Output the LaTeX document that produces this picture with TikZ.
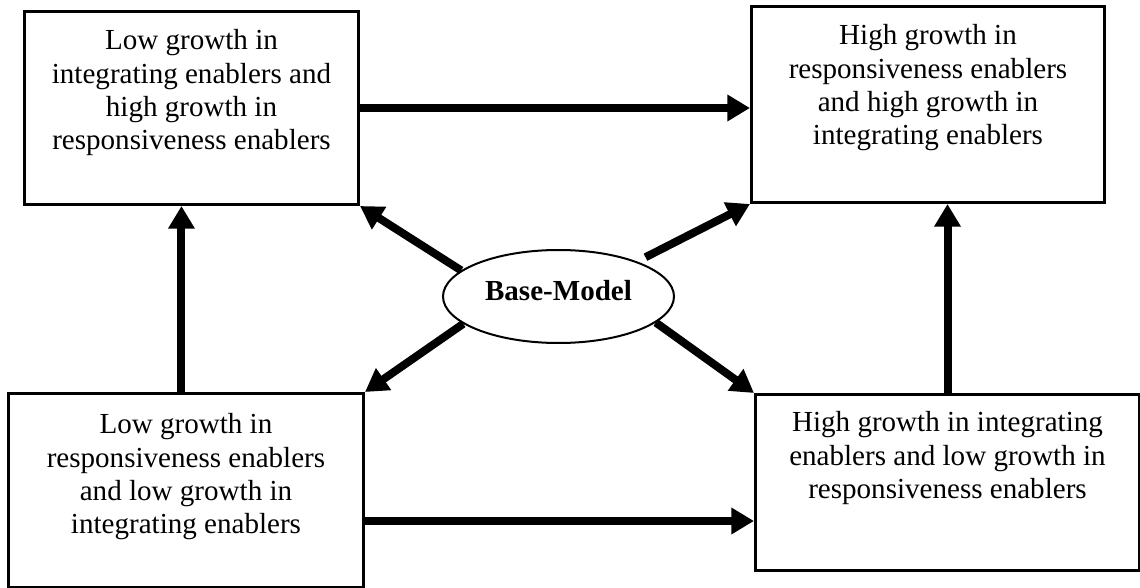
\documentclass[tikz,border=0pt]{standalone}
\usepackage{fontspec}
\setmainfont{Liberation Serif}
\usetikzlibrary{arrows.meta,shapes.geometric,calc}
\newlength\upx \setlength\upx{0.75pt}
\newcommand\boxcontent[4]{\parbox[c][#2\upx][t]{#1\upx}{\vspace*{#3pt}\centering #4\par}}
\tikzset{
  box/.style={draw, line width=2.25pt, inner sep=0pt, anchor=north west, font=\fontsize{21.8}{25}\selectfont},
  arr/.style={line width=6pt, -{Triangle[length=17pt,width=19pt]}},
  basemodel/.style={ellipse, draw, line width=1.5pt, minimum width=231\upx, minimum height=93\upx, inner sep=0pt,
    font=\fontsize{21.8}{25}\selectfont\bfseries, text height=14.7pt, text depth=8pt}
}
\begin{document}
\begin{tikzpicture}[x=0.75pt,y=-0.75pt]
\useasboundingbox (0,0) rectangle (1140,588);
\node[box] (tl) at (23,10) {\boxcontent{334}{193}{13.6}{Low growth in\\integrating enablers and\\high growth in\\responsiveness enablers}};
\node[box] (tr) at (750,5) {\boxcontent{353}{196}{13.6}{High growth in\\responsiveness enablers\\and high growth in\\integrating enablers}};
\node[box] (bl) at (7,392) {\boxcontent{355}{194}{15.1}{Low growth in\\responsiveness enablers\\and low growth in\\integrating enablers}};
\node[box] (br) at (754,393) {\boxcontent{384}{176}{12.85}{High growth in integrating\\enablers and low growth in\\responsiveness enablers}};
\node[basemodel] (bm) at (558.5,296.5) {Base-Model};
\coordinate (la) at ([xshift=-3.4pt]bl.north);
\coordinate (lb) at ([yshift=51pt]bl.south east);
\draw[arr] (tl.east) -- (tl.east -| tr.west);
\draw[arr] (lb) -- (lb -| br.west);
\draw[arr] (la) -- (la |- tl.south);
\draw[arr] (br.north) -- (br.north |- tr.south);
\draw[arr] (bm.165) -- (tl.south east);
\draw[arr, shorten <=7pt] (bm.24) -- (tr.south west);
\draw[arr] (bm.196) -- (bl.north east);
\draw[arr] (bm.345) -- (br.north west);
\end{tikzpicture}
\end{document}
